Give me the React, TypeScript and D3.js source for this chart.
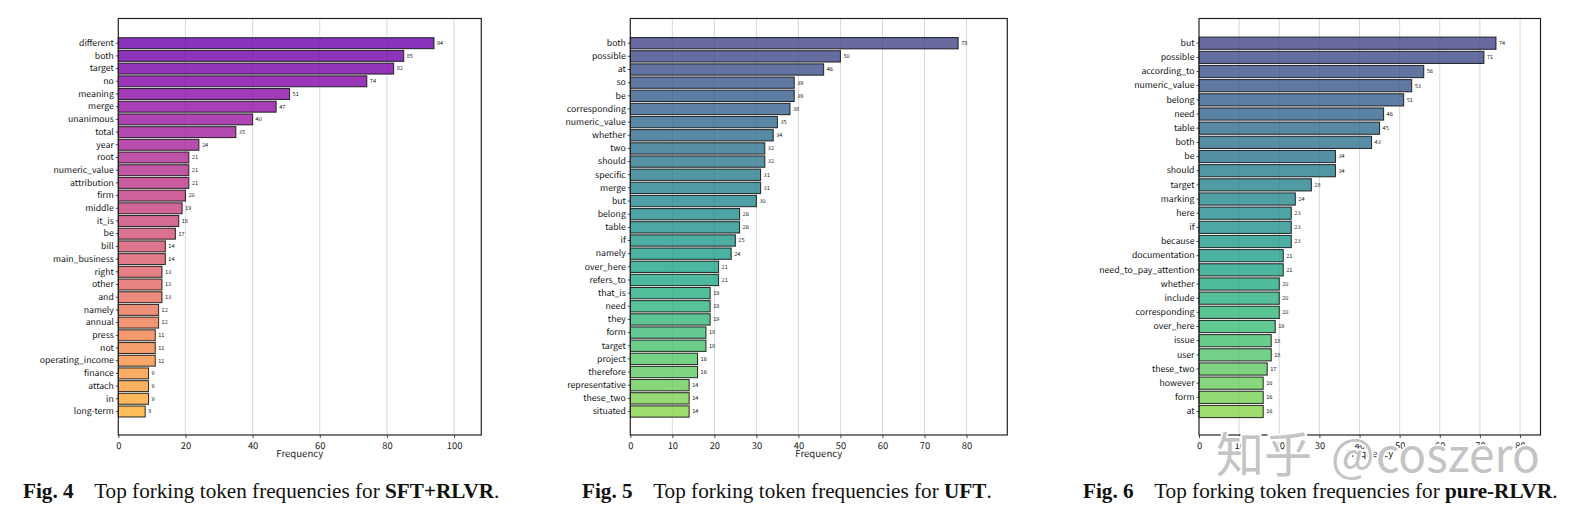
import React, { useEffect, useRef } from "react";
import * as d3 from "d3";

const sftTokens = ["different", "both", "target", "no", "meaning", "merge", "unanimous", "total", "year", "root", "numeric_value", "attribution", "firm", "middle", "it_is", "be", "bill", "main_business", "right", "other", "and", "namely", "annual", "press", "not", "operating_income", "finance", "attach", "in", "long-term"];
const sftCounts = [94, 85, 82, 74, 51, 47, 40, 35, 24, 21, 21, 21, 20, 19, 18, 17, 14, 14, 13, 13, 13, 12, 12, 11, 11, 11, 9, 9, 9, 8];
const sftTicks = [0, 20, 40, 60, 80, 100];

const uftTokens = ["both", "possible", "at", "so", "be", "corresponding", "numeric_value", "whether", "two", "should", "specific", "merge", "but", "belong", "table", "if", "namely", "over_here", "refers_to", "that_is", "need", "they", "form", "target", "project", "therefore", "representative", "these_two", "situated"];
const uftCounts = [78, 50, 46, 39, 39, 38, 35, 34, 32, 32, 31, 31, 30, 26, 26, 25, 24, 21, 21, 19, 19, 19, 18, 18, 16, 16, 14, 14, 14];
const uftTicks = [0, 10, 20, 30, 40, 50, 60, 70, 80];

const pureTokens = ["but", "possible", "according_to", "numeric_value", "belong", "need", "table", "both", "be", "should", "target", "marking", "here", "if", "because", "documentation", "need_to_pay_attention", "whether", "include", "corresponding", "over_here", "issue", "user", "these_two", "however", "form", "at"];
const pureCounts = [74, 71, 56, 53, 51, 46, 45, 43, 34, 34, 28, 24, 23, 23, 23, 21, 21, 20, 20, 20, 19, 18, 18, 17, 16, 16, 16];
const pureTicks = [0, 10, 20, 30, 40, 50, 60, 70, 80];

const sans = "'Noto Sans CJK SC', 'Noto Sans', sans-serif";
const serif = "'Liberation Serif', serif";

type PanelProps = {
  tokens: string[];
  counts: number[];
  ticks: number[];
  left: number;
  right: number;
  palette: (t: number) => string;
};

const top = 18.5;
const bottom = 435;
const firstRow = 43.2;
const lastRow = 411.5;

function Panel({ tokens, counts, ticks, left, right, palette }: PanelProps) {
  const gRef = useRef<SVGGElement>(null);

  const x = d3.scaleLinear().domain([0, d3.max(counts)! * 1.15]).range([left, right]);
  const step = (lastRow - firstRow) / (tokens.length - 1);
  const y = d3
    .scaleBand<string>()
    .domain(tokens)
    .range([firstRow - step / 2, lastRow + step / 2])
    .paddingInner(0.14)
    .paddingOuter(0.07);
  const color = d3
    .scaleLinear()
    .domain([0, tokens.length - 1])
    .range([0.2, 0.82]);

  useEffect(() => {
    const g = d3.select(gRef.current);
    g.selectAll("*").remove();

    const xAxis = d3.axisBottom(x).tickValues(ticks).tickSize(3).tickPadding(4).tickFormat(d3.format("d") as any);
    const yAxis = d3.axisLeft(y).tickSize(2.5).tickPadding(2);

    const gx = g.append("g").attr("transform", `translate(0, ${bottom})`).call(xAxis);
    const gy = g.append("g").attr("transform", `translate(${left}, 0)`).call(yAxis);
    gx.select(".domain").remove();
    gy.select(".domain").remove();
    gx.selectAll("text").style("font-family", sans).style("font-size", "9.4px").attr("fill", "#222");
    gy.selectAll("text").style("font-family", sans).style("font-size", "8.7px").attr("fill", "#111");
    gx.selectAll("line").attr("stroke", "#222").attr("stroke-width", 0.8);
    gy.selectAll("line").attr("stroke", "#222").attr("stroke-width", 0.8);
  }, []);

  return (
    <g style={{ textRendering: "geometricPrecision" }}>
      {ticks.slice(1).map((t) => (
        <line key={t} x1={x(t)} x2={x(t)} y1={top} y2={bottom} stroke="#b8b8b8" strokeOpacity={0.55} strokeWidth={1} />
      ))}
      {tokens.map((token, i) => (
        <rect
          key={token}
          x={x(0)}
          y={y(token)}
          width={x(counts[i]) - x(0)}
          height={y.bandwidth()}
          fill={palette(color(i))}
          fillOpacity={0.8}
          stroke="#111"
          strokeOpacity={0.85}
          strokeWidth={1.05}
        />
      ))}
      {tokens.map((token, i) => (
        <text
          key={token}
          x={x(counts[i]) + 3}
          y={y(token)! + y.bandwidth() / 2}
          dy="0.33em"
          fontFamily={sans}
          fontSize={5.6}
          fill="#222"
        >
          {counts[i]}
        </text>
      ))}
      <rect x={left} y={top} width={right - left} height={bottom - top} fill="none" stroke="#222" strokeWidth={1.2} />
      <g ref={gRef} />
      <text x={(left + right) / 2} y={457} textAnchor="middle" fontFamily={sans} fontSize={9.6} fill="#222">
        Frequency
      </text>
    </g>
  );
}

function Caption({ x, num, name }: { x: number; num: string; name: string }) {
  return (
    <text x={x} y={497.5} fontFamily={serif} fontSize={21.2} fill="#111">
      <tspan fontWeight="bold">{num}</tspan>
      <tspan dx={20.5}>Top forking token frequencies for </tspan>
      <tspan fontWeight="bold">{name}</tspan>
      <tspan>.</tspan>
    </text>
  );
}

function Watermark({ x, text, size }: { x: number; text: string; size: number }) {
  return (
    <text
      x={x}
      y={472}
      fontFamily={sans}
      fontSize={size}
      fontWeight={400}
      fill="#c4c4c4"
      stroke="#fff"
      strokeWidth={3.5}
      style={{ paintOrder: "stroke" }}
    >
      {text}
    </text>
  );
}

export default function App() {
  return (
    <svg width={1574} height={518} style={{ position: "absolute", left: 0, top: 0, background: "#fff" }}>
      <Panel tokens={sftTokens} counts={sftCounts} ticks={sftTicks} left={118.3} right={481.3} palette={d3.interpolatePlasma} />
      <Panel tokens={uftTokens} counts={uftCounts} ticks={uftTicks} left={630.3} right={1007.3} palette={d3.interpolateViridis} />
      <Panel tokens={pureTokens} counts={pureCounts} ticks={pureTicks} left={1199} right={1540.5} palette={d3.interpolateViridis} />
      <Caption x={23} num="Fig. 4" name="SFT+RLVR" />
      <Caption x={582} num="Fig. 5" name="UFT" />
      <Caption x={1083} num="Fig. 6" name="pure-RLVR" />
      <Watermark x={1216} text="知乎" size={48} />
      <Watermark x={1331} text="@" size={46} />
      <Watermark x={1376} text="coszero" size={46} />
    </svg>
  );
}
